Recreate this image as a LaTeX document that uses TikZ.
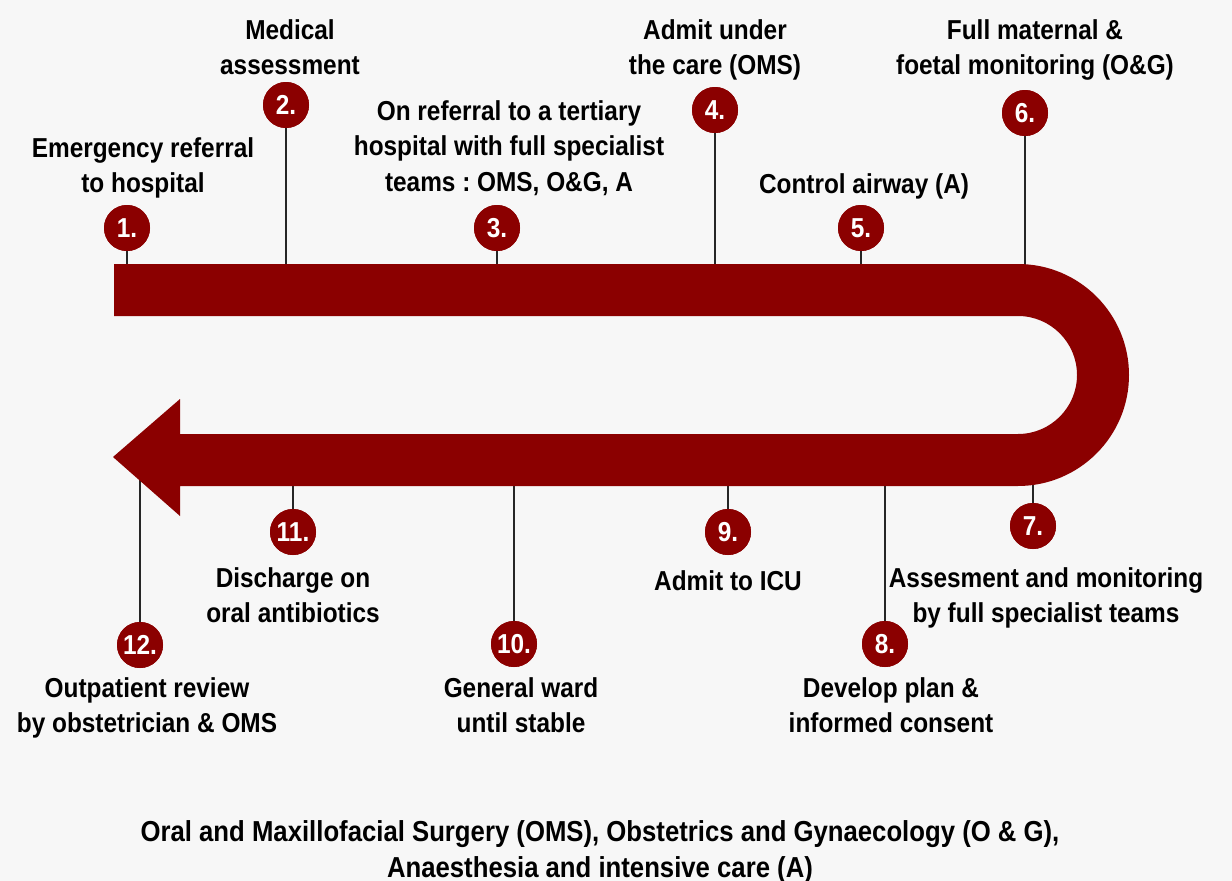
\documentclass[tikz,border=0pt]{standalone}
\usepackage{fontspec}
\usepackage{tikz}
\usetikzlibrary{positioning, calc}

\newfontfamily\labelfont{Liberation Sans}[FakeStretch=0.89]
\definecolor{bandred}{RGB}{139,0,0}
\definecolor{paper}{RGB}{247,247,247}
\frenchspacing

\tikzset{
	stepdot/.style={circle, fill=bandred, minimum size=46bp, inner sep=0pt, text=white},
	steptext/.style={align=center, anchor=north, inner sep=0pt},
	stem/.style={line width=1.3bp, black!85},
	every node/.style={font=\labelfont\bfseries\fontsize{27.5}{36}\selectfont}
}

\begin{document}
\begin{tikzpicture}[x=1bp, y=-1bp]
	
	%//page, one unit per pixel, y running down
	\fill[paper] (0,0) rectangle (1232,881);
	\useasboundingbox (0,0) rectangle (1232,881);
	
	%//stems first, the band covers their lower ends
	\foreach \n/\x/\y/\e in {1/127/228/290, 2/286/105/290, 3/497/228/290, 4/715/110/290,
		5/861/228/290, 6/1025/113/290, 7/1033/526/460, 8/885/644/460, 9/728/532/460,
		10/514/644/460, 11/293/532/460, 12/140/645/457}
	{
		\node[stepdot] (c\n) at (\x,\y) {\n.};
		\coordinate (e\n) at (\x,\e);
		\draw[stem] (c\n) -- (e\n);
	}
	
	%//the U shaped band with its arrow head
	\fill[bandred] (114,264) -- (1018,264) arc (-90:90:111) -- (180,486) -- (180,516)
		-- (113,457) -- (180,399) -- (180,434) -- (1018,434) arc (90:-90:59)
		-- (114,316) -- cycle;
	
	%//circles again on top of the band
	\foreach \n/\x/\y in {1/127/228, 2/286/105, 3/497/228, 4/715/110, 5/861/228, 6/1025/113,
		7/1033/526, 8/885/644, 9/728/532, 10/514/644, 11/293/532, 12/140/645}
	\node[stepdot] at (\x,\y) {\n.};
	
	%//labels, top row
	\node[steptext] (l1) at (143,137) {Emergency referral\\to hospital};
	\node[steptext] (l2) at (290,19) {Medical\\assessment};
	\node[steptext] (l3) at (509,100) {On referral to a tertiary\\hospital with full specialist\\teams : OMS, O\&G, A};
	\node[steptext] (l4) at (715,19) {Admit under\\the care (OMS)};
	\node[steptext] (l5) at (864,173) {Control airway (A)};
	\node[steptext] (l6) at (1035,19) {Full maternal \&\\foetal monitoring (O\&G)};
	
	%//labels, bottom row
	\node[steptext] (l7) at (1046,567) {Assesment and monitoring\\by full specialist teams};
	\node[steptext] (l8) at (891,677) {Develop plan \&\\informed consent};
	\node[steptext] (l9) at (728,570) {Admit to ICU};
	\node[steptext] (l10) at (521,677) {General ward\\until stable};
	\node[steptext] (l11) at (293,567) {Discharge on\\oral antibiotics};
	\node[steptext] (l12) at (147,677) {Outpatient review\\by obstetrician \& OMS};
	
	\node[steptext, font=\labelfont\bfseries\fontsize{29}{36}\selectfont] (key) at (600,820)
		{Oral and Maxillofacial Surgery (OMS), Obstetrics and Gynaecology (O \& G),\\Anaesthesia and intensive care (A)};
	
\end{tikzpicture}
\end{document}
